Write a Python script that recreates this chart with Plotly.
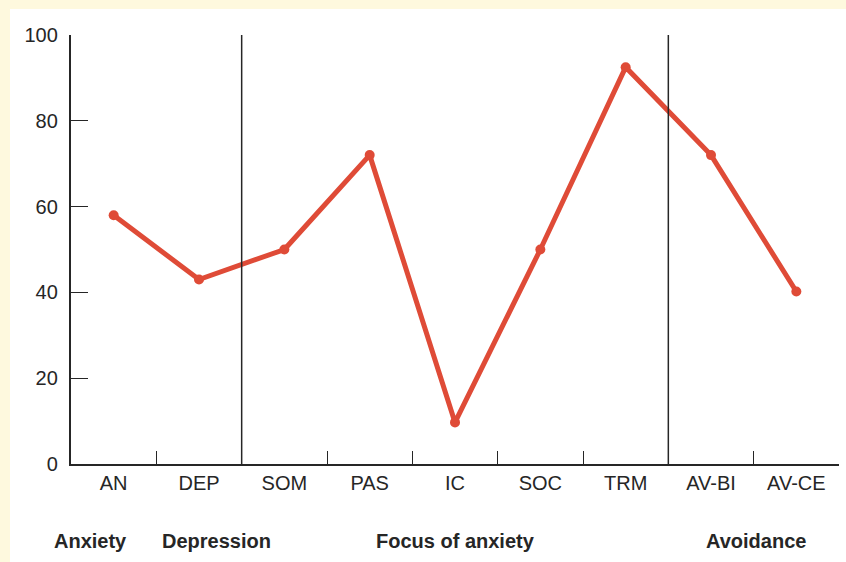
import plotly.graph_objects as go

categories = ["AN", "DEP", "SOM", "PAS", "IC", "SOC", "TRM", "AV-BI", "AV-CE"]
scores = [58, 43, 50, 72, 9.7, 50, 92.5, 72, 40.2]
y_ticks = [0, 20, 40, 60, 80, 100]
groups = ["Anxiety", "Depression", "Focus of anxiety", "Avoidance"]
group_pos = [-0.27, 1.21, 4.0, 7.53]
dividers = [1.5, 6.5]

RED = "#DF4B37"
INK = "#262626"
BG = "#FEF9DE"
FONT = "Liberation Sans, Arial, Helvetica, sans-serif"

fig = go.Figure()
fig.add_trace(go.Scatter(
    x=categories, y=scores, mode="lines+markers",
    line=dict(color=RED, width=5),
    marker=dict(color=RED, size=10),
    showlegend=False, cliponaxis=False,
))

shapes = [dict(type="rect", xref="paper", yref="paper", x0=-0.0794, x1=1.02,
               y0=-0.235, y1=1.0606, fillcolor="white", line=dict(width=0), layer="below")]
for d in dividers:
    shapes.append(dict(type="line", xref="x", yref="paper", x0=d, x1=d, y0=0, y1=1,
                       line=dict(color=INK, width=1.5), layer="above"))

annotations = [dict(x=p, y=-0.18, xref="x", yref="paper", text=f"<b>{g}</b>", showarrow=False,
                    font=dict(family=FONT, size=20, color=INK), xanchor="center", yanchor="middle")
               for g, p in zip(groups, group_pos)]

fig.update_layout(
    width=846, height=562,
    margin=dict(l=71, r=7, t=35, b=98),
    paper_bgcolor=BG,
    plot_bgcolor="white",
    shapes=shapes,
    annotations=annotations,
    font=dict(family=FONT, size=20, color=INK),
    xaxis=dict(
        type="category", categoryorder="array", categoryarray=categories,
        range=[-0.5, 8.5], tickson="boundaries", ticks="inside", ticklen=13,
        tickwidth=1.3, tickcolor=INK, showline=True, linecolor=INK, linewidth=2.3,
        showgrid=False, zeroline=False, tickfont=dict(family=FONT, size=20, color=INK),
    ),
    yaxis=dict(
        range=[0, 100], tickvals=y_ticks, ticks="inside", ticklen=17, tickwidth=1.3,
        tickcolor=INK, showline=True, linecolor=INK, linewidth=2.3, showgrid=False,
        zeroline=False, ticklabelstandoff=7,
        tickfont=dict(family=FONT, size=20, color=INK),
    ),
)

fig.write_html(
    "out.html",
    config={"displayModeBar": False},
    post_script=("document.body.style.margin='0';document.body.style.padding='0';"
                 f"document.body.style.background='{BG}';"
                 "window.dispatchEvent(new Event('resize'));"),
)
